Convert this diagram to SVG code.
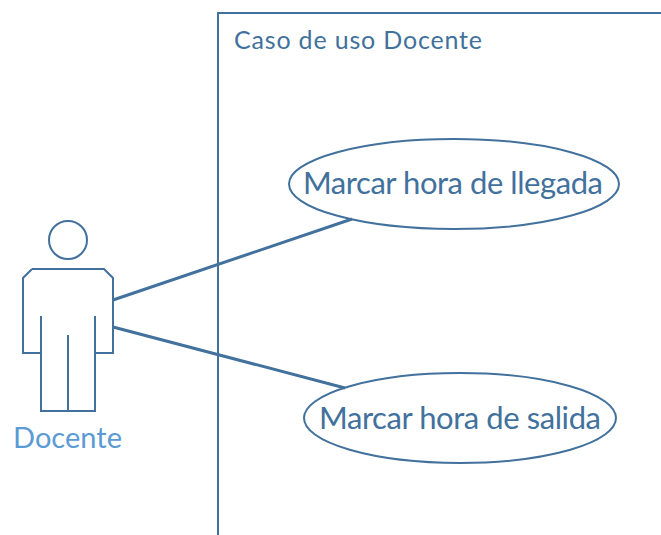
<svg xmlns="http://www.w3.org/2000/svg" width="661" height="535" viewBox="0 0 661 535">
<style>
.l{fill:none;stroke:#41719c;stroke-width:2}
.c{fill:none;stroke:#41719c;stroke-width:3}
.t{font-family:Lato,"Open Sans","Liberation Sans",sans-serif;fill:#41719c}
</style>
<rect width="661" height="535" fill="#fff"/>
<g id="system"><path class="l" d="M218 535V13H661"/><text class="t" x="234" y="49" font-size="25" textLength="248" lengthAdjust="spacing">Caso de uso Docente</text></g>
<g id="connectors"><path class="c" d="M113 300L352 219M113 327L345 388"/></g>
<g id="actor"><circle class="l" cx="68" cy="240" r="19"/><path class="l" d="M32 269H104L113 278V353H95V316M95 353V411H41V316M41 353H23V278L32 269M68 335V411"/><text x="13" y="448" font-size="29" textLength="109" lengthAdjust="spacing" class="t" style="fill:#5b9bd5">Docente</text></g>
<g id="uc1"><ellipse class="l" cx="454" cy="184" rx="165" ry="45"/><text class="t" x="303" y="194" font-size="31" textLength="300" lengthAdjust="spacing">Marcar hora de llegada</text></g>
<g id="uc2"><ellipse class="l" cx="460" cy="418" rx="156" ry="45"/><text class="t" x="319" y="429" font-size="31" textLength="282" lengthAdjust="spacing">Marcar hora de salida</text></g>
</svg>
